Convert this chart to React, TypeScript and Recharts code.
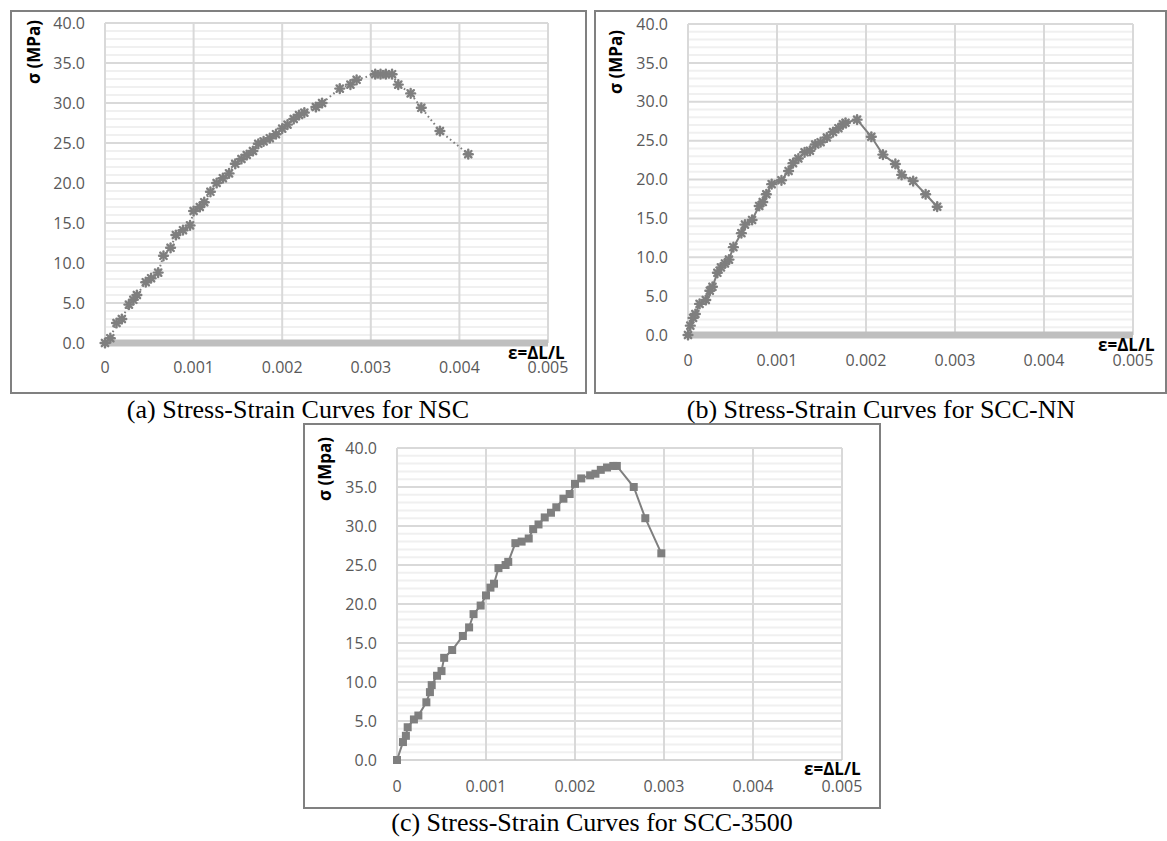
import React from 'react';
import { LineChart, Line, XAxis, YAxis, CartesianGrid } from 'recharts';

// ---------- axis values ----------
const strainTicks = [0, 0.001, 0.002, 0.003, 0.004, 0.005];
const stressTicks = [0, 5, 10, 15, 20, 25, 30, 35, 40];
const stressMajorLines = [5, 10, 15, 20, 25, 30, 35, 40];
const stressMinorLines = [1, 2, 3, 4, 6, 7, 8, 9, 11, 12, 13, 14, 16, 17, 18, 19, 21, 22, 23, 24, 26, 27, 28, 29, 31, 32, 33, 34, 36, 37, 38, 39];

// ---------- (a) NSC ----------
const nscStrain = [0, 0.00006, 0.00013, 0.00019, 0.00027, 0.00032, 0.00036, 0.00046, 0.00052, 0.0006, 0.00066, 0.00074, 0.0008, 0.00088, 0.00096, 0.001, 0.00107, 0.00112, 0.00119, 0.00126, 0.00133, 0.0014, 0.00147, 0.00154, 0.0016, 0.00167, 0.00173, 0.00179, 0.00186, 0.00193, 0.002, 0.00206, 0.00213, 0.00219, 0.00225, 0.00238, 0.00245, 0.00265, 0.00277, 0.00284, 0.00305, 0.00311, 0.00317, 0.00324, 0.00331, 0.00345, 0.00357, 0.00378, 0.0041];
const nscStress = [0, 0.6, 2.5, 3.0, 4.8, 5.4, 6.0, 7.6, 8.1, 8.8, 10.9, 11.9, 13.5, 14.1, 14.7, 16.5, 17.0, 17.6, 18.9, 20.0, 20.6, 21.2, 22.4, 23.0, 23.5, 24.0, 24.9, 25.2, 25.6, 26.1, 26.8, 27.3, 28.0, 28.5, 28.8, 29.5, 30.0, 31.8, 32.3, 32.9, 33.6, 33.6, 33.6, 33.6, 32.3, 31.2, 29.4, 26.5, 23.6];

// ---------- (b) SCC-NN ----------
const nnStrain = [0, 0.000026, 0.000057, 0.000083, 0.00013, 0.0002, 0.000245, 0.000275, 0.00033, 0.00037, 0.000415, 0.00046, 0.00051, 0.0006, 0.00064, 0.00072, 0.0008, 0.00084, 0.00088, 0.00094, 0.00105, 0.00113, 0.00118, 0.00124, 0.00131, 0.00137, 0.00143, 0.00149, 0.00156, 0.00163, 0.00169, 0.00174, 0.00177, 0.0019, 0.00206, 0.00219, 0.00233, 0.0024, 0.00253, 0.00267, 0.0028];
const nnStress = [0, 1.2, 2.2, 2.7, 4.0, 4.5, 5.7, 6.2, 8.0, 8.7, 9.2, 9.7, 11.3, 13.1, 14.2, 14.8, 16.6, 17.1, 18.1, 19.4, 19.9, 21.1, 22.1, 22.7, 23.5, 23.7, 24.5, 24.8, 25.4, 26.1, 26.6, 27.1, 27.3, 27.7, 25.5, 23.2, 22.0, 20.6, 19.8, 18.1, 16.5];

// ---------- (c) SCC-3500 ----------
const c35Strain = [0, 0.000067, 0.0001, 0.00012, 0.00019, 0.00024, 0.00033, 0.00037, 0.00039, 0.00045, 0.0005, 0.00053, 0.00062, 0.00074, 0.00081, 0.00086, 0.00094, 0.001, 0.00105, 0.00109, 0.00114, 0.00122, 0.00125, 0.00133, 0.0014, 0.00148, 0.00153, 0.00159, 0.00166, 0.00173, 0.00179, 0.00187, 0.00194, 0.002, 0.00207, 0.00217, 0.00223, 0.00229, 0.00236, 0.00243, 0.00247, 0.00266, 0.00279, 0.00297];
const c35Stress = [0, 2.3, 3.1, 4.2, 5.2, 5.7, 7.4, 8.7, 9.6, 10.8, 11.4, 13.1, 14.1, 15.9, 17.0, 18.7, 19.8, 21.1, 22.1, 22.6, 24.6, 25.0, 25.4, 27.8, 28.0, 28.4, 29.6, 30.2, 31.1, 31.7, 32.4, 33.5, 34.1, 35.4, 36.1, 36.5, 36.7, 37.2, 37.5, 37.7, 37.7, 35.0, 31.0, 26.5];

const zip = (xs: number[], ys: number[]) => xs.map((x, i) => ({ x, y: ys[i] }));
const nscData = zip(nscStrain, nscStress);
const nnData = zip(nnStrain, nnStress);
const c35Data = zip(c35Strain, c35Stress);

const GRAY = '#7f7f7f';
const TICK_FONT = "'Open Sans', 'Noto Sans', sans-serif";

const StarDot = (props: any) => {
  const { cx, cy, index } = props;
  if (cx == null || cy == null) return <g key={`st${index}`} />;
  const r = 4.4;
  const d = 3.2;
  return (
    <g key={`st${index}`} stroke={GRAY} strokeWidth={2.4} strokeLinecap="round">
      <line x1={cx - r} y1={cy} x2={cx + r} y2={cy} />
      <line x1={cx} y1={cy - r} x2={cx} y2={cy + r} />
      <line x1={cx - d} y1={cy - d} x2={cx + d} y2={cy + d} />
      <line x1={cx - d} y1={cy + d} x2={cx + d} y2={cy - d} />
    </g>
  );
};

const SquareDot = (props: any) => {
  const { cx, cy, index } = props;
  if (cx == null || cy == null) return <g key={`sq${index}`} />;
  return <rect key={`sq${index}`} x={cx - 4} y={cy - 4} width={8} height={8} fill={GRAY} />;
};

type Box = { x: number; y: number; w: number; h: number };
type Plot = { left: number; top: number; right: number; bottom: number };

function Panel(props: {
  box: Box;
  plot: Plot;
  data: { x: number; y: number }[];
  dotted: boolean;
  square: boolean;
  thickAxis: boolean;
  xTickMargin: number;
}) {
  const { box, plot, data, dotted, square, thickAxis, xTickMargin } = props;
  return (
    <>
      <div
        style={{
          position: 'absolute',
          left: box.x,
          top: box.y,
          width: box.w,
          height: box.h,
          border: '2px solid #808080',
          boxSizing: 'border-box',
          background: '#fff',
        }}
      />
      <div style={{ position: 'absolute', left: box.x, top: box.y, width: box.w, height: box.h }}>
        <LineChart
          width={box.w}
          height={box.h}
          data={data}
          margin={{ top: plot.top - box.y, right: box.x + box.w - plot.right, left: 0, bottom: 0 }}
        >
          <CartesianGrid
            horizontalValues={stressMinorLines}
            vertical={false}
            stroke="#f0f0f0"
            strokeWidth={2}
          />
          <CartesianGrid
            horizontalValues={stressMajorLines}
            verticalValues={strainTicks}
            stroke="#d9d9d9"
            strokeWidth={2}
          />
          <XAxis
            type="number"
            dataKey="x"
            domain={[0, 0.005]}
            ticks={strainTicks}
            interval={0}
            height={box.y + box.h - plot.bottom}
            tickLine={false}
            tickSize={0}
            tickMargin={xTickMargin}
            axisLine={thickAxis ? { stroke: '#bfbfbf', strokeWidth: 7 } : { stroke: '#c8c8c8', strokeWidth: 1.5 }}
            tick={{ fill: '#595959', fontSize: 16, fontFamily: TICK_FONT }}
            tickFormatter={(v: number) => (v === 0 ? '0' : String(v))}
          />
          <YAxis
            type="number"
            domain={[0, 40]}
            ticks={stressTicks}
            interval={0}
            width={plot.left - box.x}
            tickLine={false}
            tickSize={0}
            tickMargin={20}
            axisLine={false}
            tick={{ fill: '#595959', fontSize: 16, fontFamily: TICK_FONT }}
            tickFormatter={(v: number) => v.toFixed(1)}
          />
          <Line
            type="linear"
            dataKey="y"
            stroke={GRAY}
            strokeWidth={2}
            strokeDasharray={dotted ? '1.6 3' : undefined}
            dot={square ? SquareDot : StarDot}
            activeDot={false}
            isAnimationActive={false}
          />
        </LineChart>
      </div>
    </>
  );
}

const boxA: Box = { x: 10, y: 10, w: 577, h: 384 };
const plotA: Plot = { left: 105, top: 23, right: 548, bottom: 343 };
const boxB: Box = { x: 594, y: 10, w: 573, h: 384 };
const plotB: Plot = { left: 688, top: 24, right: 1133, bottom: 335 };
const boxC: Box = { x: 303, y: 423, w: 578, h: 386 };
const plotC: Plot = { left: 397, top: 448, right: 842, bottom: 760 };

const titleStyle = {
  fontFamily: TICK_FONT,
  fontWeight: 700,
  fontSize: 17,
  fill: '#000',
} as const;

const captionStyle = {
  fontFamily: "'Liberation Serif', 'Times New Roman', serif",
  fontSize: 26,
  fill: '#000',
} as const;

export default function App() {
  return (
    <div style={{ position: 'absolute', left: 0, top: 0, width: 1167, height: 841, background: '#fff', overflow: 'hidden' }}>
      <Panel box={boxA} plot={plotA} data={nscData} dotted square={false} thickAxis xTickMargin={19} />
      <Panel box={boxB} plot={plotB} data={nnData} dotted={false} square={false} thickAxis xTickMargin={20} />
      <Panel box={boxC} plot={plotC} data={c35Data} dotted={false} square thickAxis={false} xTickMargin={21} />
      <svg width={1167} height={841} style={{ position: 'absolute', left: 0, top: 0, pointerEvents: 'none' }}>
        <text x={40} y={20} transform="rotate(-90 40 20)" textAnchor="end" style={titleStyle}>σ (MPa)</text>
        <text x={622} y={30} transform="rotate(-90 622 30)" textAnchor="end" style={titleStyle}>σ (MPa)</text>
        <text x={331} y={437} transform="rotate(-90 331 437)" textAnchor="end" style={titleStyle}>σ (Mpa)</text>

        <text x={508} y={359} style={titleStyle}>ε=ΔL/L</text>
        <text x={1098} y={351} style={titleStyle}>ε=ΔL/L</text>
        <text x={804} y={775} style={titleStyle}>ε=ΔL/L</text>

        <text x={298} y={418} textAnchor="middle" style={captionStyle}>(a) Stress-Strain Curves for NSC</text>
        <text x={881} y={418} textAnchor="middle" style={captionStyle}>(b) Stress-Strain Curves for SCC-NN</text>
        <text x={592} y={831} textAnchor="middle" style={captionStyle}>(c) Stress-Strain Curves for SCC-3500</text>
      </svg>
    </div>
  );
}
